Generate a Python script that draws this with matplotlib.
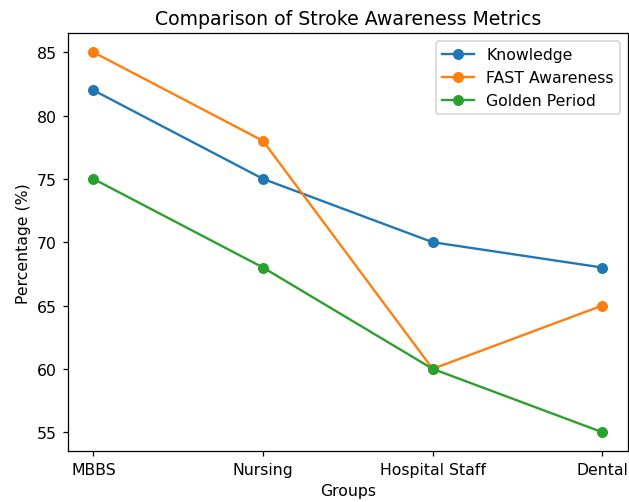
import matplotlib.pyplot as plt

groups = ["MBBS", "Nursing", "Hospital Staff", "Dental"]
knowledge = [82, 75, 70, 68]
fast_awareness = [85, 78, 60, 65]
golden_period = [75, 68, 60, 55]

# reference looks like a downscaled high-dpi save, so bump dpi to match text size
dpi = 113
fig, ax = plt.subplots(figsize=(629 / dpi, 503 / dpi), dpi=dpi)
fig.subplots_adjust(left=0.108, right=0.998, bottom=0.101, top=0.932)

ax.plot(groups, knowledge, marker="o", label="Knowledge")
ax.plot(groups, fast_awareness, marker="o", label="FAST Awareness")
ax.plot(groups, golden_period, marker="o", label="Golden Period")

ax.set_title("Comparison of Stroke Awareness Metrics")
ax.set_xlabel("Groups")
ax.set_ylabel("Percentage (%)")
ax.legend()

fig.savefig("out.png", dpi=dpi)
